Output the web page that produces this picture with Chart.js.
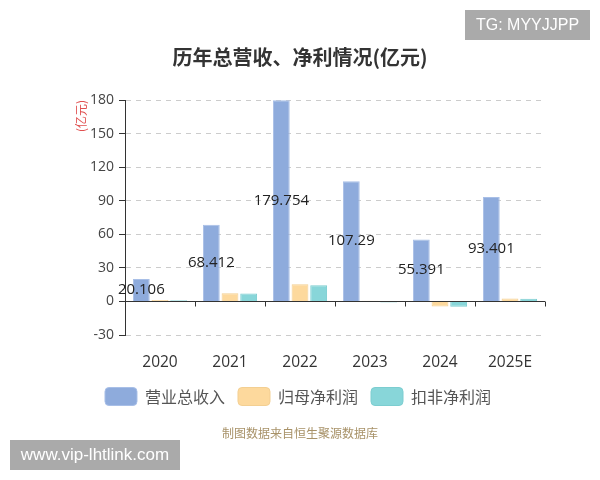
<!DOCTYPE html>
<html><head><meta charset="utf-8">
<script src="https://cdn.jsdelivr.net/npm/chart.js@4/dist/chart.umd.min.js"></script>
<style>html,body{margin:0;padding:0;background:#fff}#wrap{width:600px;height:480px}</style>
</head><body><div id="wrap"><canvas id="c" width="600" height="480"></canvas></div>
<script>
const categories = ['2020', '2021', '2022', '2023', '2024', '2025E'];
const revenue = [20.106, 68.412, 179.754, 107.29, 55.391, 93.401];
const parentNetProfit = [1.3, 7.3, 15.4, 0.5, -4.5, 2.7];
const deductedNetProfit = [1.0, 7.0, 14.5, -1.0, -4.8, 2.5];
const seriesNames = ['营业总收入', '归母净利润', '扣非净利润'];
const yTicks = { min: -30, max: 180, step: 30 };

const FONT = '"Noto Sans CJK SC", "Noto Sans", sans-serif';
const NUMFONT = '"Open Sans", "Noto Sans", sans-serif';

const zeroLine = {
  id: 'zeroLine',
  beforeDatasetsDraw(chart) {
    const { ctx, chartArea, scales } = chart;
    const y = Math.round(scales.y.getPixelForValue(0)) + 0.5;
    ctx.save();
    ctx.strokeStyle = '#333';
    ctx.lineWidth = 1;
    ctx.beginPath();
    ctx.moveTo(chartArea.left, y);
    ctx.lineTo(chartArea.right, y);
    const n = categories.length;
    const w = (chartArea.right - chartArea.left) / n;
    for (let i = 1; i <= n; i++) {
      const x = Math.round(chartArea.left + i * w) + 0.5;
      ctx.moveTo(x, y);
      ctx.lineTo(x, y + 5);
    }
    ctx.stroke();
    ctx.restore();
  }
};

const barLabels = {
  id: 'barLabels',
  afterDatasetsDraw(chart) {
    const { ctx } = chart;
    const meta = chart.getDatasetMeta(0);
    ctx.save();
    ctx.font = '15px ' + NUMFONT;
    ctx.fillStyle = '#222';
    ctx.textAlign = 'center';
    ctx.textBaseline = 'middle';
    meta.data.forEach((bar, i) => {
      ctx.fillText(String(revenue[i]), bar.x, (bar.y + bar.base) / 2);
    });
    ctx.restore();
  }
};

const legendShift = {
  id: 'legendShift',
  afterLayout(chart) {
    const lg = chart.legend;
    if (!lg) return;
    lg.left -= 11; lg.right -= 11;
    lg.top -= 2.5; lg.bottom -= 2.5;
  }
};

const extras = {
  id: 'extras',
  afterDraw(chart) {
    const { ctx } = chart;
    ctx.save();
    ctx.fillStyle = '#333';
    ctx.font = 'bold 20px ' + FONT;
    ctx.textAlign = 'center';
    ctx.textBaseline = 'middle';
    ctx.fillText('历年总营收、净利情况(亿元)', 300, 57);
    ctx.font = '12px ' + FONT;
    ctx.fillStyle = '#a89268';
    ctx.fillText('制图数据来自恒生聚源数据库', 300, 433);
    ctx.fillStyle = '#aaaaaa';
    ctx.fillRect(465, 10, 125, 30);
    ctx.fillRect(10, 440, 170, 30);
    ctx.fillStyle = '#fff';
    ctx.font = '16px "Liberation Sans", Arial, sans-serif';
    ctx.fillText('TG: MYYJJPP', 527.5, 25.5);
    ctx.font = '17px "Liberation Sans", Arial, sans-serif';
    ctx.fillText('www.vip-lhtlink.com', 95, 455.5);
    ctx.restore();
  }
};

new Chart(document.getElementById('c'), {
  type: 'bar',
  data: {
    labels: categories,
    datasets: [
      { label: seriesNames[0], data: revenue, backgroundColor: '#8eabdc', borderColor: '#a8bfe7', borderWidth: 1 },
      { label: seriesNames[1], data: parentNetProfit, backgroundColor: '#fdd99d', borderColor: '#f3cf92', borderWidth: 1 },
      { label: seriesNames[2], data: deductedNetProfit, backgroundColor: '#88d6d9', borderColor: '#7ccdd0', borderWidth: 1 }
    ]
  },
  options: {
    responsive: false,
    animation: false,
    devicePixelRatio: 1,
    layout: { padding: { top: 100, left: 73, right: 55, bottom: 62 } },
    datasets: { bar: { categoryPercentage: 0.8, barPercentage: 0.9 } },
    plugins: {
      title: { display: false },
      tooltip: { enabled: false },
      legend: {
        position: 'bottom',
        labels: {
          boxWidth: 32, boxHeight: 18, padding: 13,
          useBorderRadius: true, borderRadius: 4,
          color: '#555',
          font: { family: FONT, size: 16 }
        }
      }
    },
    scales: {
      x: {
        grid: { display: false },
        border: { display: false },
        ticks: { color: '#333', padding: 10, font: { family: NUMFONT, size: 15.5 } },
        afterFit(s) { s.height = 42; }
      },
      y: {
        min: yTicks.min, max: yTicks.max,
        ticks: { stepSize: yTicks.step, color: '#444', padding: 5, font: { family: NUMFONT, size: 14 } },
        grid: {
          color: c => (c.tick && c.tick.value === 0) ? 'rgba(0,0,0,0)' : '#cccccc',
          tickBorderDash: [],
          tickColor: '#333',
          tickLength: 6,
          lineWidth: 1
        },
        border: { display: true, color: '#333', width: 1, dash: [5, 5] },
        title: {
          display: true, text: '(亿元)', align: 'end', color: '#e05050',
          font: { family: FONT, size: 12 }, padding: { top: 1, bottom: 0 }
        },
        afterFit(s) { s.width = 52; }
      }
    }
  },
  plugins: [zeroLine, barLabels, legendShift, extras]
});
</script></body></html>
